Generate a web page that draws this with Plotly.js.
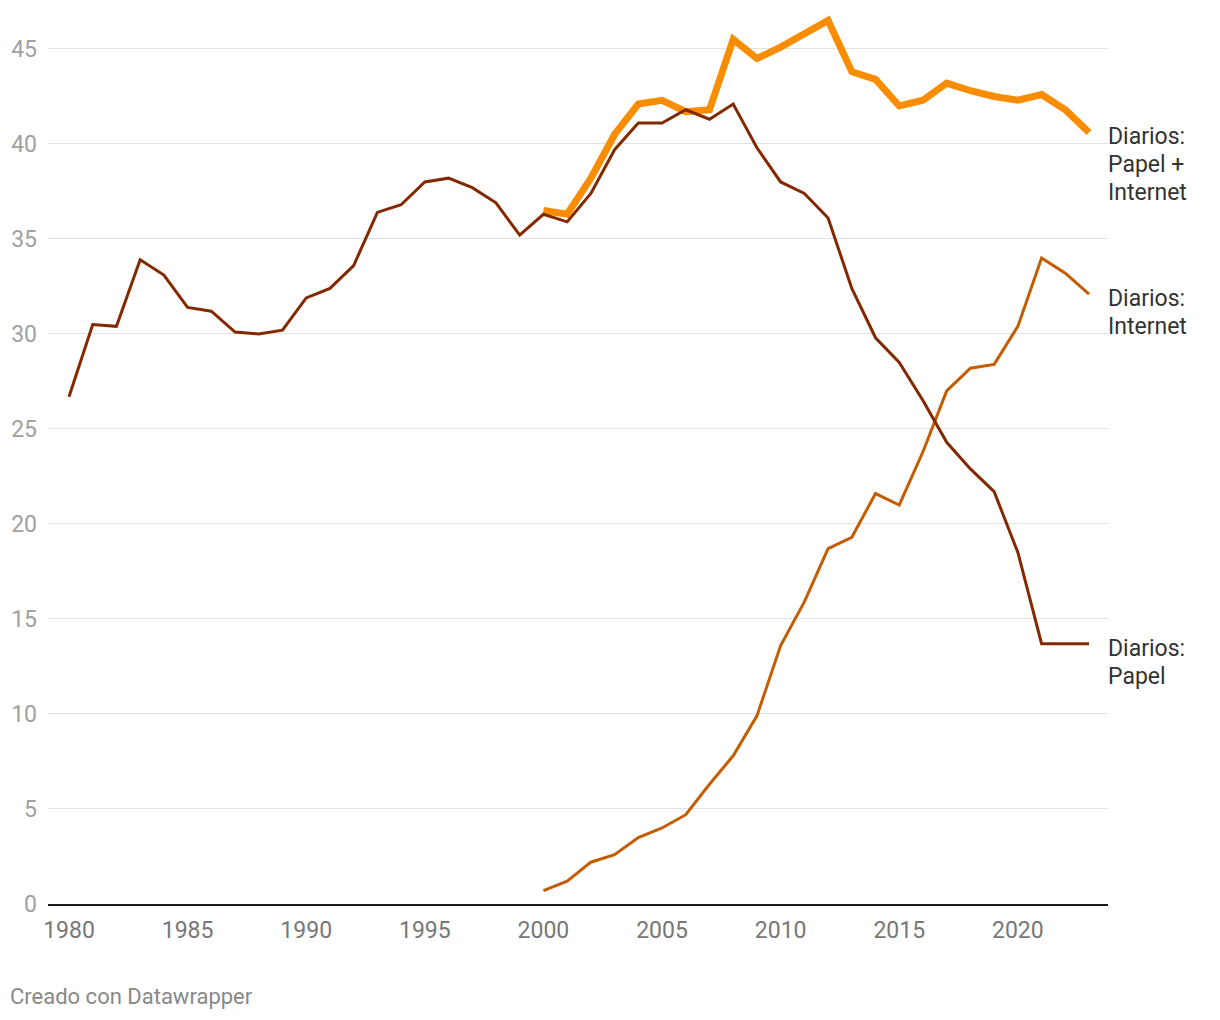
<!DOCTYPE html>
<html>
<head>
<meta charset="utf-8">
<script src="https://cdn.plot.ly/plotly-3.0.1.min.js"></script>
<style>
html,body{margin:0;padding:0;background:#fff;}
#chart{width:1220px;height:1020px;}
</style>
</head>
<body>
<div id="chart"></div>
<script>
// Years
const yearsPapel = [1980,1981,1982,1983,1984,1985,1986,1987,1988,1989,1990,1991,1992,1993,1994,1995,1996,1997,1998,1999,2000,2001,2002,2003,2004,2005,2006,2007,2008,2009,2010,2011,2012,2013,2014,2015,2016,2017,2018,2019,2020,2021,2022,2023];
const yearsDigital = [2000,2001,2002,2003,2004,2005,2006,2007,2008,2009,2010,2011,2012,2013,2014,2015,2016,2017,2018,2019,2020,2021,2022,2023];

// Diarios: Papel
const papel = [26.7,30.5,30.4,33.9,33.1,31.4,31.2,30.1,30.0,30.2,31.9,32.4,33.6,36.4,36.8,38.0,38.2,37.7,36.9,35.2,36.3,35.9,37.4,39.7,41.1,41.1,41.8,41.3,42.1,39.8,38.0,37.4,36.1,32.4,29.8,28.5,26.5,24.3,22.9,21.7,18.5,13.7,13.7,13.7];

// Diarios: Internet
const internet = [0.7,1.2,2.2,2.6,3.5,4.0,4.7,6.3,7.8,9.9,13.6,15.9,18.7,19.3,21.6,21.0,23.8,27.0,28.2,28.4,30.4,34.0,33.2,32.1];

// Diarios: Papel + Internet
const total = [36.5,36.3,38.2,40.5,42.1,42.3,41.7,41.8,45.5,44.5,45.1,45.8,46.5,43.8,43.4,42.0,42.3,43.2,42.8,42.5,42.3,42.6,41.8,40.6];

// Line labels (one entry per text line)
const labelTotal = ["Diarios:", "Papel +", "Internet"];
const labelInternet = ["Diarios:", "Internet"];
const labelPapel = ["Diarios:", "Papel"];

const xTicks = [1980,1985,1990,1995,2000,2005,2010,2015,2020];
const yTicks = [0,5,10,15,20,25,30,35,40,45];

const colTotal = '#fa8c00';
const colInternet = '#c45c00';
const colPapel = '#832900';

const traces = [
  {x: yearsDigital, y: total, type: 'scatter', mode: 'lines',
   line: {color: colTotal, width: 7}, hoverinfo: 'skip'},
  {x: yearsDigital, y: internet, type: 'scatter', mode: 'lines',
   line: {color: colInternet, width: 3}, hoverinfo: 'skip'},
  {x: yearsPapel, y: papel, type: 'scatter', mode: 'lines',
   line: {color: colPapel, width: 3}, hoverinfo: 'skip'}
];

const annFont = {family: 'Roboto, sans-serif', size: 23, color: '#333333'};
const lineGap = 28;

function labelAnns(lines, yVal, baseShift) {
  return lines.map((t, i) => ({
    xref: 'paper', x: 1, yref: 'y', y: yVal,
    xanchor: 'left', yanchor: 'middle', xshift: -2,
    yshift: baseShift - i * lineGap,
    text: t, showarrow: false, align: 'left', font: annFont
  }));
}

const annotations = []
  .concat(labelAnns(labelTotal, total[total.length-1], -4))
  .concat(labelAnns(labelInternet, internet[internet.length-1], -4))
  .concat(labelAnns(labelPapel, papel[papel.length-1], -5));

annotations.push({
  xref: 'paper', x: -40/1060, yref: 'paper', y: -92/894, xanchor: 'left', yanchor: 'middle',
  text: 'Creado con Datawrapper', showarrow: false, align: 'left',
  font: {family: 'Roboto, sans-serif', size: 22, color: '#888888'}
});

const layout = {
  width: 1220, height: 1020,
  margin: {l: 48, r: 112, t: 10, b: 116, pad: 0},
  paper_bgcolor: '#ffffff', plot_bgcolor: '#ffffff',
  showlegend: false,
  hovermode: false,
  font: {family: 'Roboto, sans-serif'},
  xaxis: {
    range: [1979.115, 2023.8],
    tickvals: xTicks,
    ticktext: xTicks.map(String),
    showgrid: false, zeroline: false,
    showline: true, linecolor: '#1a1a1a', linewidth: 2,
    ticks: '', ticklabelstandoff: 4,
    tickfont: {family: 'Roboto, sans-serif', size: 23, color: '#777777'},
    fixedrange: true
  },
  yaxis: {
    range: [0, 47.05],
    tickvals: yTicks,
    showgrid: true, gridcolor: '#e3e3e3', gridwidth: 1,
    zeroline: false, showline: false,
    ticks: '', ticklabelstandoff: 10,
    tickfont: {family: 'Roboto, sans-serif', size: 23, color: '#a0a0a0'},
    fixedrange: true
  },
  annotations: annotations
};

Plotly.newPlot('chart', traces, layout, {displayModeBar: false, staticPlot: true});
</script>
</body>
</html>
